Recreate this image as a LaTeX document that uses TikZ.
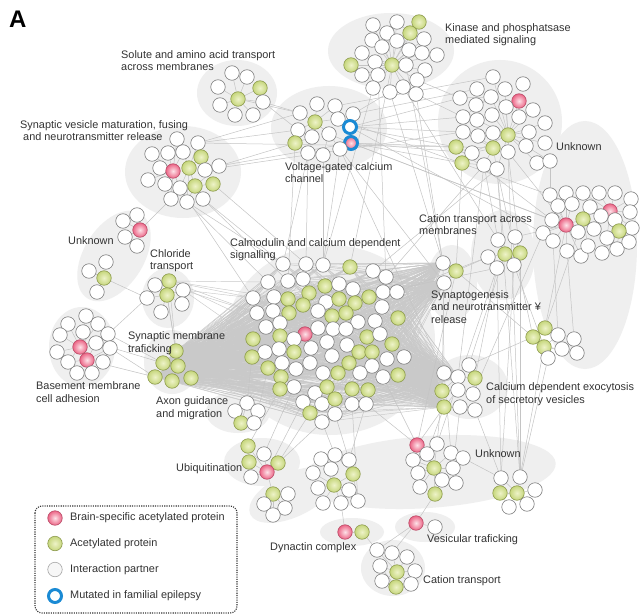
\documentclass[tikz,border=0pt]{standalone}
\usepackage{fontspec}
\setmainfont{Liberation Sans}
\pgfdeclarelayer{bglayer}
\pgfdeclarelayer{edgelayer}
\pgfsetlayers{bglayer,edgelayer,main}
\definecolor{blobc}{HTML}{EFEFEF}
\definecolor{edgec}{HTML}{C4C4C4}
\definecolor{fanc}{HTML}{C9C9C9}
\definecolor{wbord}{HTML}{7E7E7E}
\definecolor{gin}{HTML}{EEF3C8}
\definecolor{gout}{HTML}{C6D67C}
\definecolor{gbord}{HTML}{8C9A4C}
\definecolor{pin}{HTML}{FDE2E8}
\definecolor{pout}{HTML}{EC6586}
\definecolor{pbord}{HTML}{B84A66}
\definecolor{epiblue}{HTML}{1A8AD4}
\definecolor{txt}{HTML}{333333}
\tikzset{
  nbase/.style={circle, inner sep=0pt, minimum size=14.5pt, line width=0.6pt},
  nwhite/.style={nbase, draw=wbord, fill=white},
  ngreen/.style={nbase, draw=gbord, inner color=gin, outer color=gout},
  npink/.style={nbase, draw=pbord, inner color=pin, outer color=pout},
  nepiw/.style={nbase, draw=epiblue, line width=3pt, fill=white, minimum size=13pt},
  nepip/.style={nbase, draw=epiblue, line width=3pt, inner color=pin, outer color=pout, minimum size=13pt},
  edge/.style={draw=edgec, line width=0.5pt},
  fan/.style={draw=fanc, line width=0.45pt},
  lbl/.style={font=\fontsize{10.9}{12.4}\selectfont, text=txt, align=left, inner sep=0pt},
  blob/.style={fill=blobc},
}
\begin{document}
\begin{tikzpicture}[x=1pt, y=-1pt]
\useasboundingbox (0,0) rectangle (640,615);
\begin{pgfonlayer}{bglayer}
\fill[white] (0,0) rectangle (640,615);
% background blobs
\fill[blob] (237,93) ellipse [x radius=40, y radius=33];
\fill[blob] (183,172) ellipse [x radius=58, y radius=46];
\fill[blob, rotate around={-32:(114,256)}] (114,256) ellipse [x radius=30, y radius=50];
\fill[blob] (168,298) ellipse [x radius=26, y radius=30];
\fill[blob] (82,347) ellipse [x radius=33, y radius=40];
\fill[blob] (172,362) ellipse [x radius=28, y radius=32];
\fill[blob] (238,412) ellipse [x radius=32, y radius=21];
\fill[blob] (262,462) ellipse [x radius=38, y radius=24];
\fill[blob, rotate around={25:(292,495)}] (292,495) ellipse [x radius=46, y radius=22];
\fill[blob, rotate around={4:(428,472)}] (428,472) ellipse [x radius=128, y radius=36];
\fill[blob] (330,340) ellipse [x radius=105, y radius=95];
\fill[blob] (391,51) ellipse [x radius=63, y radius=38];
\fill[blob] (329,128) ellipse [x radius=58, y radius=42];
\fill[blob] (500,122) circle [radius=62];
\fill[blob] (585,245) ellipse [x radius=52, y radius=124];
\fill[blob] (503,255) ellipse [x radius=32, y radius=45];
\fill[blob] (452,283) ellipse [x radius=25, y radius=38];
\fill[blob] (470,387) ellipse [x radius=38, y radius=32];
\fill[blob] (352,532) ellipse [x radius=32, y radius=14];
\fill[blob] (425,527) ellipse [x radius=30, y radius=15];
\fill[blob] (393,568) ellipse [x radius=32, y radius=28];
\end{pgfonlayer}

% ---------- nodes ----------
\foreach \px/\py/\ty [count=\i] in {232/73/nwhite,247/77/nwhite,218/87/nwhite,260/88/ngreen,238/99/ngreen,220/105/nwhite,263/102/nwhite,235/115/nwhite,253/115/nwhite}
  \node[\ty] (sol\i) at (\px,\py) {};
\foreach \px/\py/\ty [count=\i] in {177/139/nwhite,198/143/nwhite,152/154/nwhite,168/153/nwhite,183/152/nwhite,201/157/ngreen,160/168/nwhite,173/171/npink,189/168/ngreen,205/170/nwhite,219/166/nwhite,148/180/nwhite,165/184/nwhite,180/188/nwhite,195/186/ngreen,213/184/ngreen,171/199/nwhite,187/202/nwhite,203/199/nwhite}
  \node[\ty] (sv\i) at (\px,\py) {};
\foreach \px/\py/\ty [count=\i] in {137/215/nwhite,123/221/nwhite,140/230/npink,125/237/nwhite,137/246/nwhite}
  \node[\ty] (uka\i) at (\px,\py) {};
\foreach \px/\py/\ty [count=\i] in {106/262/nwhite,89/271/nwhite,104/278/ngreen,97/292/nwhite}
  \node[\ty] (ukb\i) at (\px,\py) {};
\foreach \px/\py/\ty [count=\i] in {169/281/ngreen,155/285/nwhite,183/290/nwhite,167/295/ngreen,147/298/nwhite,182/304/nwhite,161/312/nwhite}
  \node[\ty] (chl\i) at (\px,\py) {};
\foreach \px/\py/\ty [count=\i] in {86/316/nwhite,68/324/nwhite,98/324/nwhite,60/335/nwhite,83/332/nwhite,108/334/nwhite,80/347/npink,96/343/nwhite,110/348/nwhite,57/352/nwhite,87/360/npink,68/362/nwhite,103/362/nwhite,77/373/nwhite,92/373/nwhite}
  \node[\ty] (bm\i) at (\px,\py) {};
\foreach \px/\py/\ty [count=\i] in {176/351/ngreen,163/363/ngreen,178/366/ngreen,155/377/ngreen,172/381/ngreen,191/378/ngreen}
  \node[\ty] (smt\i) at (\px,\py) {};
\foreach \px/\py/\ty [count=\i] in {247/403/nwhite,235/411/nwhite,258/411/nwhite,241/423/ngreen,254/423/nwhite}
  \node[\ty] (axn\i) at (\px,\py) {};
\foreach \px/\py/\ty [count=\i] in {248/446/ngreen,264/454/nwhite,249/462/ngreen,278/463/ngreen,251/477/nwhite,267/472/npink,273/494/ngreen,288/494/nwhite,264/504/nwhite,285/508/nwhite,273/515/nwhite}
  \node[\ty] (ubi\i) at (\px,\py) {};
\foreach \px/\py/\ty [count=\i] in {321/459/nwhite,335/455/nwhite,349/460/nwhite,313/473/nwhite,331/469/nwhite,353/474/ngreen,334/485/ngreen,318/488/nwhite,349/490/nwhite,323/503/nwhite,341/503/nwhite,358/501/nwhite}
  \node[\ty] (bl\i) at (\px,\py) {};
\node[npink] (dyn1) at (345,532) {};
\node[ngreen] (dyn2) at (362,532) {};
\node[npink] (ves1) at (416,523) {};
\node[nwhite] (ves2) at (435,527) {};
\foreach \px/\py/\ty [count=\i] in {377/550/nwhite,392/553/nwhite,407/557/nwhite,380/566/nwhite,397/572/ngreen,415/571/nwhite,382/581/nwhite,396/587/ngreen,411/584/nwhite}
  \node[\ty] (cat\i) at (\px,\py) {};
\foreach \px/\py/\ty [count=\i] in {417/445/npink,437/444/nwhite,427/454/nwhite,451/453/nwhite,463/458/nwhite,413/460/nwhite,434/468/ngreen,453/468/nwhite,418/473/nwhite,442/480/nwhite,456/483/nwhite,420/487/nwhite,435/494/ngreen}
  \node[\ty] (bu\i) at (\px,\py) {};
\foreach \px/\py/\ty [count=\i] in {501/478/nwhite,520/477/nwhite,500/493/ngreen,517/493/ngreen,535/490/nwhite,509/507/nwhite,527/504/nwhite}
  \node[\ty] (br\i) at (\px,\py) {};
\foreach \px/\py/\ty [count=\i] in {469/365/nwhite,444/373/nwhite,458/377/nwhite,475/378/ngreen,442/391/ngreen,458/390/nwhite,473/394/nwhite,444/407/ngreen,460/407/nwhite,475/410/nwhite}
  \node[\ty] (exo\i) at (\px,\py) {};
\node[nwhite] (syn1) at (443,263) {};
\node[ngreen] (syn2) at (456,271) {};
\node[nwhite] (syn3) at (444,283) {};
\foreach \px/\py/\ty [count=\i] in {498/240/nwhite,515/237/nwhite,488/257/nwhite,505/254/ngreen,520/253/ngreen,497/268/nwhite,514/265/nwhite}
  \node[\ty] (cm\i) at (\px,\py) {};
\foreach \px/\py/\ty [count=\i] in {545/328/ngreen,533/337/ngreen,558/335/nwhite,574/339/nwhite,544/347/ngreen,562/349/nwhite,577/353/nwhite,548/358/nwhite}
  \node[\ty] (rsm\i) at (\px,\py) {};
\foreach \px/\py/\ty [count=\i] in {373/25/nwhite,397/22/nwhite,419/22/ngreen,387/33/nwhite,410/33/ngreen,372/40/nwhite,397/41/nwhite,424/39/nwhite,382/47/nwhite,362/53/nwhite,409/50/nwhite,422/53/nwhite,437/55/nwhite,375/62/nwhite,351/65/ngreen,392/65/ngreen,406/65/nwhite,425/70/nwhite,362/75/nwhite,378/75/nwhite,417/80/nwhite,373/88/nwhite,390/92/nwhite,403/87/nwhite,416/94/nwhite}
  \node[\ty] (kin\i) at (\px,\py) {};
\foreach \px/\py/\ty [count=\i] in {317/104/nwhite,335/106/nwhite,300/113/nwhite,353/114/nwhite,315/122/ngreen,338/119/nwhite,350/127/nepiw,298/130/nwhite,312/137/nwhite,329/134/nwhite,295/143/ngreen,351/143/nepip,340/149/nwhite,308/153/nwhite,323/155/nwhite}
  \node[\ty] (vg\i) at (\px,\py) {};
\foreach \px/\py/\ty [count=\i] in {493/77/nwhite,523/84/nwhite,477/89/nwhite,505/89/nwhite,519/101/npink,460/98/nwhite,491/97/nwhite,476/105/nwhite,506/107/nwhite,533/110/nwhite,463/117/nwhite,492/115/nwhite,519/117/nwhite,545/123/nwhite,477/120/nwhite,463/132/nwhite,493/133/nwhite,508/135/ngreen,529/132/nwhite,478/136/nwhite,456/147/ngreen,472/153/nwhite,493/148/ngreen,508/152/nwhite,526/146/nwhite,545/143/nwhite,462/163/ngreen,484/165/nwhite,497/169/nwhite,537/163/nwhite,550/161/nwhite}
  \node[\ty] (ur\i) at (\px,\py) {};
\foreach \px/\py/\ty [count=\i] in {550/195/nwhite,566/193/nwhite,583/193/nwhite,599/193/nwhite,615/193/nwhite,631/199/nwhite,558/206/nwhite,572/204/nwhite,590/207/nwhite,610/211/npink,630/212/nwhite,552/220/nwhite,566/225/npink,583/219/ngreen,601/216/nwhite,615/220/nwhite,632/228/nwhite,543/233/nwhite,578/232/nwhite,594/229/nwhite,619/231/ngreen,553/241/nwhite,567/251/nwhite,581/256/nwhite,588/246/nwhite,602/253/nwhite,607/238/nwhite,617/249/nwhite,629/242/nwhite}
  \node[\ty] (rc\i) at (\px,\py) {};
% central cluster
\foreach \px/\py/\ty [count=\i] in {283/264/nwhite,306/264/nwhite,323/265/nwhite,350/267/ngreen,373/271/nwhite,386/277/nwhite,
268/282/nwhite,288/281/nwhite,303/279/nwhite,325/286/ngreen,339/284/nwhite,353/289/nwhite,383/292/nwhite,397/292/nwhite,
253/298/nwhite,274/297/nwhite,288/299/ngreen,309/293/ngreen,326/302/nwhite,339/299/ngreen,355/303/ngreen,369/297/ngreen,382/307/nwhite,
257/313/nwhite,273/311/nwhite,289/313/ngreen,303/305/ngreen,318/311/nwhite,332/316/ngreen,346/313/ngreen,358/322/nwhite,375/321/nwhite,398/318/ngreen,
266/327/nwhite,280/323/nwhite,305/334/npink,318/328/nwhite,333/329/nwhite,346/329/nwhite,367/337/ngreen,380/334/nwhite,
253/339/ngreen,280/336/ngreen,294/339/nwhite,311/348/nwhite,327/342/nwhite,347/345/nwhite,359/352/ngreen,372/352/ngreen,392/344/ngreen,
265/352/nwhite,279/349/nwhite,294/352/ngreen,332/356/nwhite,349/363/ngreen,372/366/nwhite,387/359/nwhite,404/357/nwhite,
252/357/ngreen,282/363/nwhite,296/369/nwhite,310/363/nwhite,323/373/nwhite,338/373/ngreen,360/373/nwhite,383/377/nwhite,398/375/ngreen,
268/368/ngreen,281/377/ngreen,294/387/nwhite,315/393/nwhite,327/387/ngreen,352/389/ngreen,368/390/ngreen,
280/389/ngreen,303/402/nwhite,322/404/nwhite,335/399/ngreen,352/404/nwhite,366/404/nwhite,
310/413/ngreen,335/414/nwhite,322/422/nwhite}
  \node[\ty] (c\i) at (\px,\py) {};

% ---------- edges ----------
\begin{pgfonlayer}{edgelayer}
% dense fan
\foreach \i in {1,...,83}{
  \foreach \t in {smt1,smt2,smt3,smt4,smt5,smt6,syn1,syn3,exo2,exo3,exo5,exo8}
    \draw[fan] (c\i) -- (\t);
}
\foreach \i in {7,15,16,24,34}
  \draw[fan] (chl1) -- (c\i);
\foreach \i in {15,24,42}
  \draw[fan] (chl3) -- (c\i);
% hubs inside clusters
\foreach \j in {1,2,3,4,6,7,8,9} \draw[edge] (sol5) -- (sol\j);
\foreach \j in {1,3,4,5,7,12,13,14,17} \draw[edge] (sv8) -- (sv\j);
\foreach \j in {2,5,6,10,14,15,18} \draw[edge] (sv9) -- (sv\j);
\foreach \j in {11,16,18,19} \draw[edge] (sv15) -- (sv\j);
\foreach \j in {1,2,4,5} \draw[edge] (uka3) -- (uka\j);
\foreach \j in {1,2,4} \draw[edge] (ukb3) -- (ukb\j);
\foreach \j in {1,2,3,5,6,7} \draw[edge] (chl4) -- (chl\j);
\foreach \j in {1,2,3,4,5,6,8,10,12} \draw[edge] (bm7) -- (bm\j);
\foreach \j in {5,8,9,12,13,14,15} \draw[edge] (bm11) -- (bm\j);
\foreach \j in {1,2,3,5} \draw[edge] (axn4) -- (axn\j);
\foreach \j in {1,2,3,4,5,7} \draw[edge] (ubi6) -- (ubi\j);
\foreach \j in {8,9,10,11} \draw[edge] (ubi7) -- (ubi\j);
\foreach \j in {1,4,5,6,8,9,10,11,12} \draw[edge] (bl7) -- (bl\j);
\foreach \j in {2,3,9,12} \draw[edge] (bl6) -- (bl\j);
\foreach \j in {1,2,3,4,6,7,9} \draw[edge] (cat5) -- (cat\j);
\foreach \j in {4,7,9} \draw[edge] (cat8) -- (cat\j);
\foreach \j in {1,2,3,4,6,8,9,10,11,12,13} \draw[edge] (bu7) -- (bu\j);
\foreach \j in {3,6} \draw[edge] (bu1) -- (bu\j);
\foreach \j in {1,2,3,5,6,7} \draw[edge] (br4) -- (br\j);
\foreach \j in {1,6} \draw[edge] (br3) -- (br\j);
\foreach \j in {2,3,6,8} \draw[edge] (exo5) -- (exo\j);
\foreach \j in {6,9,10} \draw[edge] (exo8) -- (exo\j);
\foreach \j in {1,3,7} \draw[edge] (exo4) -- (exo\j);
\draw[edge] (syn2) -- (syn1); \draw[edge] (syn2) -- (syn3);
\foreach \j in {1,3,5,6,7} \draw[edge] (cm4) -- (cm\j);
\foreach \j in {2,7} \draw[edge] (cm5) -- (cm\j);
\foreach \j in {2,3,6,7,8} \draw[edge] (rsm5) -- (rsm\j);
\foreach \j in {2,3,4} \draw[edge] (rsm1) -- (rsm\j);
\foreach \j in {1,2,3,4,5,6,7,8,9,10,11,12,13,14,15,17,18,19,20,21,22,23,24,25} \draw[edge] (kin16) -- (kin\j);
\foreach \j in {2,3,8} \draw[edge] (kin5) -- (kin\j);
\foreach \j in {1,2,3,6,8,9,10} \draw[edge] (vg5) -- (vg\j);
\foreach \j in {8,9,14} \draw[edge] (vg11) -- (vg\j);
\foreach \j in {12,13,15} \draw[edge] (vg10) -- (vg\j);
\foreach \j in {4,6} \draw[edge] (vg7) -- (vg\j);
\foreach \j in {1,4,5,7,9,10,12,13,14,15,17,19,20,22,24,25,26,29,30,31} \draw[edge] (ur18) -- (ur\j);
\foreach \j in {16,17,20,22,28,29} \draw[edge] (ur23) -- (ur\j);
\foreach \j in {16,22,11} \draw[edge] (ur21) -- (ur\j);
\foreach \j in {22,28} \draw[edge] (ur27) -- (ur\j);
\foreach \j in {3,6,8,11} \draw[edge] (ur7) -- (ur\j);
\foreach \j in {1,2,7,8,12,14,18,19,22,23,24} \draw[edge] (rc13) -- (rc\j);
\foreach \j in {3,4,5,6,9,11,15,16,17,20,21,27} \draw[edge] (rc10) -- (rc\j);
\foreach \j in {9,19,20,25} \draw[edge] (rc14) -- (rc\j);
\foreach \j in {26,27,28,29} \draw[edge] (rc21) -- (rc\j);
\draw[edge] (dyn1) -- (dyn2);
\draw[edge] (ves1) -- (ves2);
% long edges between clusters
\foreach \a/\b in {sol5/vg3, sol7/vg3, sol7/vg8, sv2/vg3, sv2/vg8, sv11/vg11, sv11/vg12, sv10/ur16, sv2/ur21,
  sv18/c1, sv19/c1, sv19/c8, sv18/c7, sv14/c15, sv16/c2, uka3/sv17, ukb3/chl5, chl1/smt1, chl4/smt1, chl4/smt3,
  bm9/smt4, bm6/smt2, bm11/smt4, bm8/smt2, bm6/chl5, axn3/c68, axn1/c59,
  ubi4/c81, ubi4/c83, ubi6/c76, ubi2/c70, ubi1/c75, bl2/c83, bl3/c82, bl3/c80, bl11/dyn1, bl12/c79, dyn2/cat1,
  ves1/bu13, ves1/cat2, ves1/cat1, bu1/c80, bu1/c66, bu1/exo8, bu1/syn2, bu2/exo5, bu4/exo2, bu3/exo8, bu5/br1, bu8/exo9,
  bu2/cm6, br2/ur24, br2/ur29, br1/cm6, br1/cm7, br4/rsm8, br2/rsm5, br1/exo10, br2/cm5,
  exo5/syn3, exo2/syn1, exo4/cm6, exo1/cm4, exo3/ur28, exo1/rsm2, exo7/rc18,
  syn2/cm3, syn1/kin25, syn1/kin23, syn2/ur27, syn3/vg13,
  cm4/ur29, cm5/ur24, cm1/ur28, cm3/c14, cm6/c13, cm2/rc13,
  rsm1/rc13, rsm1/rc14, rsm2/ur29, rsm5/cm7, rsm3/rc22, rsm2/syn2, rsm4/rc23,
  kin16/c4, kin22/c3, kin17/syn1, kin25/ur11, kin23/vg4, kin21/ur6, kin20/c6, kin24/cm1,
  vg7/ur21, vg7/ur16, vg7/ur11, vg7/ur6, vg12/ur27, vg12/ur23, vg12/ur22, vg12/rc13, vg7/rc18, vg12/rc12, vg4/ur3,
  vg13/c3, vg15/c3, vg14/c2, vg9/c1, vg11/c8, vg13/exo2, vg6/rc1, vg2/ur1,
  ur21/rc12, ur24/rc13, ur31/rc1, ur29/c5, ur28/c6}
  \draw[edge] (\a) -- (\b);
\end{pgfonlayer}

% ---------- labels ----------
\node[font=\fontsize{24}{24}\selectfont\bfseries, inner sep=0pt, anchor=west] (panelA) at (9,19.5) {A};
\node[lbl, anchor=north west] (lsol) at (121,50.5) {Solute and amino acid transport\\across membranes};
\node[lbl, anchor=north west] (lsv) at (20,120.5) {Synaptic vesicle maturation, fusing\\\ and neurotransmitter release};
\node[lbl, anchor=west] (luka) at (68,241) {Unknown};
\node[lbl, anchor=north west] (lchl) at (150,249.5) {Chloride\\transport};
\node[lbl, anchor=north west] (lsmt) at (128,331.5) {Synaptic membrane\\traficking};
\node[lbl, anchor=north west] (lbm) at (36,381.5) {Basement membrane\\cell adhesion};
\node[lbl, anchor=north west] (laxn) at (156,396.5) {Axon guidance\\and migration};
\node[lbl, anchor=west] (lubi) at (176,469) {Ubiquitination};
\node[lbl, anchor=west] (ldyn) at (270,548) {Dynactin complex};
\node[lbl, anchor=west] (lves) at (427,540) {Vesicular traficking};
\node[lbl, anchor=west] (lcat) at (423,581) {Cation transport};
\node[lbl, anchor=west] (lbu) at (475,454) {Unknown};
\node[lbl, anchor=north west] (lexo) at (486,382.5) {Calcium dependent exocytosis\\of secretory vesicles};
\node[lbl, anchor=north west] (lsyn) at (431,290.5) {Synaptogenesis\\and neurotransmitter ¥\\release};
\node[lbl, anchor=north west] (lcm) at (419,214.5) {Cation transport across\\membranes};
\node[lbl, anchor=west] (lur) at (556,147) {Unknown};
\node[lbl, anchor=north west] (lkin) at (445,23.5) {Kinase and phosphatsase\\mediated signaling};
\node[lbl, anchor=north west] (lvg) at (285,162.5) {Voltage-gated calcium\\channel};
\node[lbl, anchor=north west] (lcal) at (230,238.5) {Calmodulin and calcium dependent\\signalling};

% ---------- legend ----------
\draw[line width=1.1pt, dash pattern=on 1.1pt off 1.2pt, rounded corners=7pt, draw=black!80] (35,506) rectangle (237,613);
\node[npink] (lg1) at (55,518) {};
\node[ngreen] (lg2) at (55,543.5) {};
\node[nwhite, draw=black!35, fill=black!3] (lg3) at (55,569.5) {};
\node[nepiw] (lg4) at (55,596) {};
\node[lbl, anchor=west] (lt1) at (70,518) {Brain-specific acetylated protein};
\node[lbl, anchor=west] (lt2) at (70,543.5) {Acetylated protein};
\node[lbl, anchor=west] (lt3) at (70,569.5) {Interaction partner};
\node[lbl, anchor=west] (lt4) at (70,596) {Mutated in familial epilepsy};
\end{tikzpicture}
\end{document}
